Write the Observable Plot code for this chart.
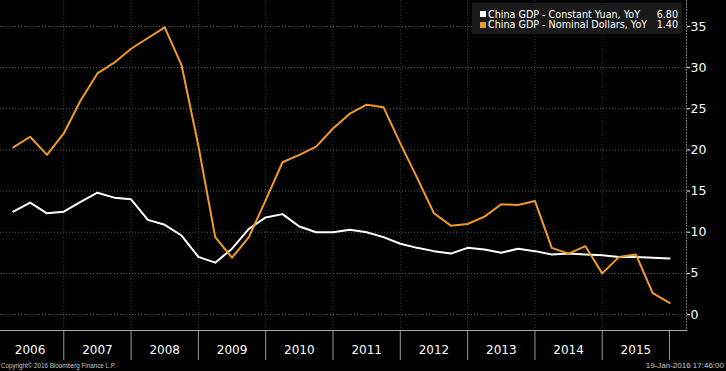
<!DOCTYPE html>
<html><head><meta charset="utf-8">
<script src="https://cdn.jsdelivr.net/npm/d3@7"></script>
<script src="https://cdn.jsdelivr.net/npm/@observablehq/plot@0.6"></script>
<style>
html,body{margin:0;padding:0;background:#000;}
#wrap{position:relative;width:726px;height:371px;overflow:hidden;background:#000;}
#legend{position:absolute;left:472px;top:3px;width:210px;height:31px;background:#1a1a1a;font-family:"DejaVu Sans",sans-serif;font-size:9.6px;color:#fff;}
.lrow{position:absolute;left:8px;right:4px;height:11px;line-height:11px;white-space:nowrap;}
.sw{position:absolute;left:0;top:2.5px;width:6px;height:6px;}
.lt{position:absolute;left:8px;}
.lv{position:absolute;right:0;}
.foot{position:absolute;bottom:0;font-family:"Liberation Sans",Arial,sans-serif;font-size:8px;color:#c8c8c8;line-height:10px;white-space:nowrap;}
</style></head><body>
<div id="wrap"></div>
<script>
const quarters = ["2006Q1","2006Q2","2006Q3","2006Q4","2007Q1","2007Q2","2007Q3","2007Q4",
  "2008Q1","2008Q2","2008Q3","2008Q4","2009Q1","2009Q2","2009Q3","2009Q4",
  "2010Q1","2010Q2","2010Q3","2010Q4","2011Q1","2011Q2","2011Q3","2011Q4",
  "2012Q1","2012Q2","2012Q3","2012Q4","2013Q1","2013Q2","2013Q3","2013Q4",
  "2014Q1","2014Q2","2014Q3","2014Q4","2015Q1","2015Q2","2015Q3","2015Q4"];
const constantYuan = [12.5,13.6,12.3,12.5, 13.7,14.8,14.2,14.0, 11.5,10.9,9.6,7.0,
  6.3,8.0,10.4,11.8, 12.2,10.7,10.0,10.0, 10.3,10.0,9.4,8.6,
  8.1,7.7,7.4,8.1, 7.9,7.5,8.0,7.7, 7.3,7.4,7.3,7.2, 7.0,7.0,6.9,6.8];
const nominalDollars = [20.3,21.6,19.4,22.0, 26.0,29.3,30.6,32.3, 33.6,34.9,30.3,20.5,
  9.4,6.9,9.4,13.9, 18.5,19.4,20.4,22.6, 24.4,25.5,25.2,20.8,
  16.6,12.3,10.8,11.0, 11.9,13.4,13.3,13.8, 8.1,7.4,8.3,5.0, 7.0,7.3,2.6,1.4];
const years = [2006,2007,2008,2009,2010,2011,2012,2013,2014,2015];
const yTicks = [0,5,10,15,20,25,30,35];
const seriesNames = ["China GDP - Constant Yuan, YoY","China GDP - Nominal Dollars, YoY"];
const seriesLast = ["6.80","1.40"];
const seriesColors = ["#ffffff","#f09a2a"];
const copyright = "Copyright\u00a9 2016 Bloomberg Finance L.P.";
const stamp = "19-Jan-2016 17:46:00";

const qEnd = q => +q.slice(0,4) + (+q.slice(5))/4;
const rows = quarters.map((q,i)=>({t:qEnd(q), yuan:constantYuan[i], usd:nominalDollars[i]}));
const boundaries = years.slice(1).concat([years[years.length-1]+1]);

const chart = Plot.plot({
  width:726, height:371, marginLeft:0, marginRight:40, marginTop:0, marginBottom:41,
  style:{background:"#000", color:"#fff", fontFamily:"DejaVu Sans, sans-serif"},
  x:{domain:[2006.06, 2016.252], axis:null},
  y:{domain:[-1.944, 38.16], axis:null},
  marks:[
    Plot.ruleY(yTicks, {stroke:"#5a5a5a", strokeDasharray:"1,2"}),
    Plot.ruleX(boundaries.slice(0,-1), {stroke:"#3a3a3a", strokeDasharray:"1,2"}),
    Plot.frame({anchor:"right", stroke:"#777", strokeDasharray:"1,2"}),
    Plot.ruleX(boundaries, {stroke:"#9a9a9a", insetTop:330, insetBottom:-30}),
    Plot.frame({anchor:"bottom", stroke:"#aaa"}),
    Plot.axisY(yTicks, {anchor:"right", tickSize:3, tickPadding:1, fontSize:12.5, label:null}),
    Plot.text(years, {x:d=>d+0.5, text:d=>String(d), frameAnchor:"bottom", dy:23, fill:"#fff", fontSize:12}),
    Plot.line(rows, {x:"t", y:"yuan", stroke:seriesColors[0], strokeWidth:2}),
    Plot.line(rows, {x:"t", y:"usd", stroke:seriesColors[1], strokeWidth:2})
  ]
});
const wrap = document.getElementById("wrap");
wrap.appendChild(chart);

const legend = document.createElement("div");
legend.id = "legend";
seriesNames.forEach((n,i)=>{
  const r = document.createElement("div");
  r.className = "lrow";
  r.style.top = (5.5 + i*10.5) + "px";
  r.innerHTML = `<span class="sw" style="background:${seriesColors[i]}"></span><span class="lt">${n}</span><span class="lv">${seriesLast[i]}</span>`;
  legend.appendChild(r);
});
wrap.appendChild(legend);

const f1 = document.createElement("div");
f1.className = "foot"; f1.style.left = "1px"; f1.style.transformOrigin = "left center"; f1.style.transform = "scaleX(0.78)"; f1.textContent = copyright;
const f2 = document.createElement("div");
f2.className = "foot"; f2.style.right = "2px"; f2.textContent = stamp;
wrap.appendChild(f1); wrap.appendChild(f2);
</script>
</body></html>
